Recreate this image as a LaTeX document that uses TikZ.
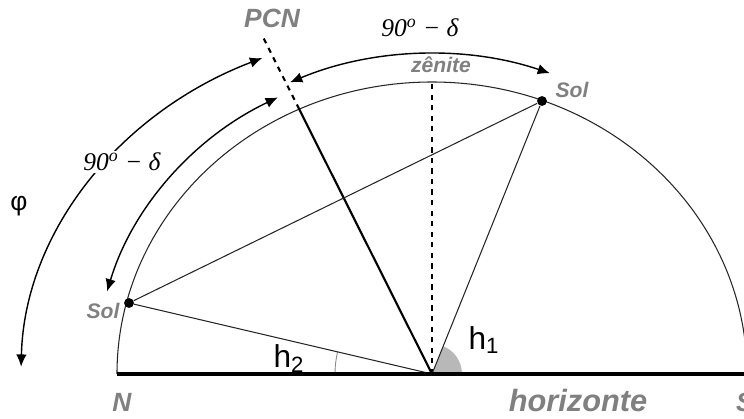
\documentclass[tikz,border=0pt]{standalone}
\usepackage{fontspec}
\setmainfont{Liberation Sans}
\newfontfamily\timesfont{Liberation Serif}
\usetikzlibrary{arrows.meta}
\definecolor{labelgray}{RGB}{128,128,128}

\begin{document}
\begin{tikzpicture}[x=0.2mm,y=0.2mm,
    gray label/.style={text=labelgray,font=\bfseries\itshape\fontsize{15}{18}\selectfont,
        inner sep=1pt},
    small gray/.style={gray label,font=\bfseries\itshape\fontsize{12}{14}\selectfont},
    big gray/.style={gray label,font=\bfseries\itshape\fontsize{17.5}{20}\selectfont},
    delta label/.style={font=\timesfont\itshape\fontsize{14.5}{17}\selectfont,inner sep=1pt},
    angle label/.style={font=\fontsize{18}{21}\selectfont,inner sep=1pt},
    sun dot/.style={circle,fill=black,inner sep=0pt,minimum size=5.6pt},
    sky line/.style={line width=0.6pt,draw=black!85},
    arc arrow/.style={line width=0.8pt,
        {Latex[length=7pt,width=6pt]}-{Latex[length=7pt,width=6pt]}}
]
    \useasboundingbox (-432,-45) rectangle (312,374);
    \clip (-432,-45) rectangle (312,374);

    \coordinate (O) at (0,0);
    \coordinate (N) at (-315,0);
    \coordinate (S) at (315,0);
    \coordinate (zen) at (0,292);
    \coordinate (pcn arc) at (-132.8,264.8);
    \coordinate (pcn end) at (-170,339);

    \fill[black!28] (O) -- (30,0) arc[start angle=0,end angle=68.1,radius=30] -- cycle;
    \draw[black!45,line width=0.5pt] (-97,0) arc[start angle=180,end angle=166.8,radius=97];

    \draw[sky line] (N) arc[start angle=180,end angle=0,x radius=315,y radius=292];
    \draw[dashed,line width=0.9pt] (O) -- (zen);
    \draw[line width=1.2pt] (O) -- (pcn arc);
    \draw[dashed,line width=1.2pt] (pcn arc) -- (pcn end);

    \node[sun dot] (sol1) at (110,273) {};
    \node[sun dot] (sol2) at (-303,71) {};
    \draw[sky line] (sol1) -- (O);
    \draw[sky line] (sol2) -- (O);
    \draw[sky line] (sol2) -- (sol1);

    \draw[line width=2.4pt] (N) -- (S);

    \draw[arc arrow] (114.3:345 and 320) arc[start angle=114.3,end angle=70,x radius=345,y radius=320];
    \draw[arc arrow] (117.2:337 and 311) arc[start angle=117.2,end angle=164.6,x radius=337,y radius=311];
    \draw[arc arrow] (114.4:411 and 347) arc[start angle=114.4,end angle=178.8,x radius=411,y radius=347];

    \node[delta label] (delta top) at (-12,346) {90\textsuperscript{o} − δ};
    \node[delta label,fill=white] (delta left) at (-310,212) {90\textsuperscript{o} − δ};
    \node[font=\fontsize{15}{18}\selectfont] (phi) at (-413,168) {φ};

    \node[gray label] (pcn) at (-160,356) {PCN};
    \node[small gray] (zenite) at (9,309) {zênite};
    \node[small gray] (sol1 label) at (140,284) {Sol};
    \node[small gray] (sol2 label) at (-329,63) {Sol};
    \node[gray label] (north) at (-310,-28) {N};
    \node[big gray] (horizonte) at (146,-27) {horizonte};
    \node[gray label,anchor=west] (south) at (302,-28) {S};

    \node[angle label] (h1) at (52,34) {h\textsubscript{1}};
    \node[angle label] (h2) at (-143,15) {h\textsubscript{2}};
\end{tikzpicture}
\end{document}
